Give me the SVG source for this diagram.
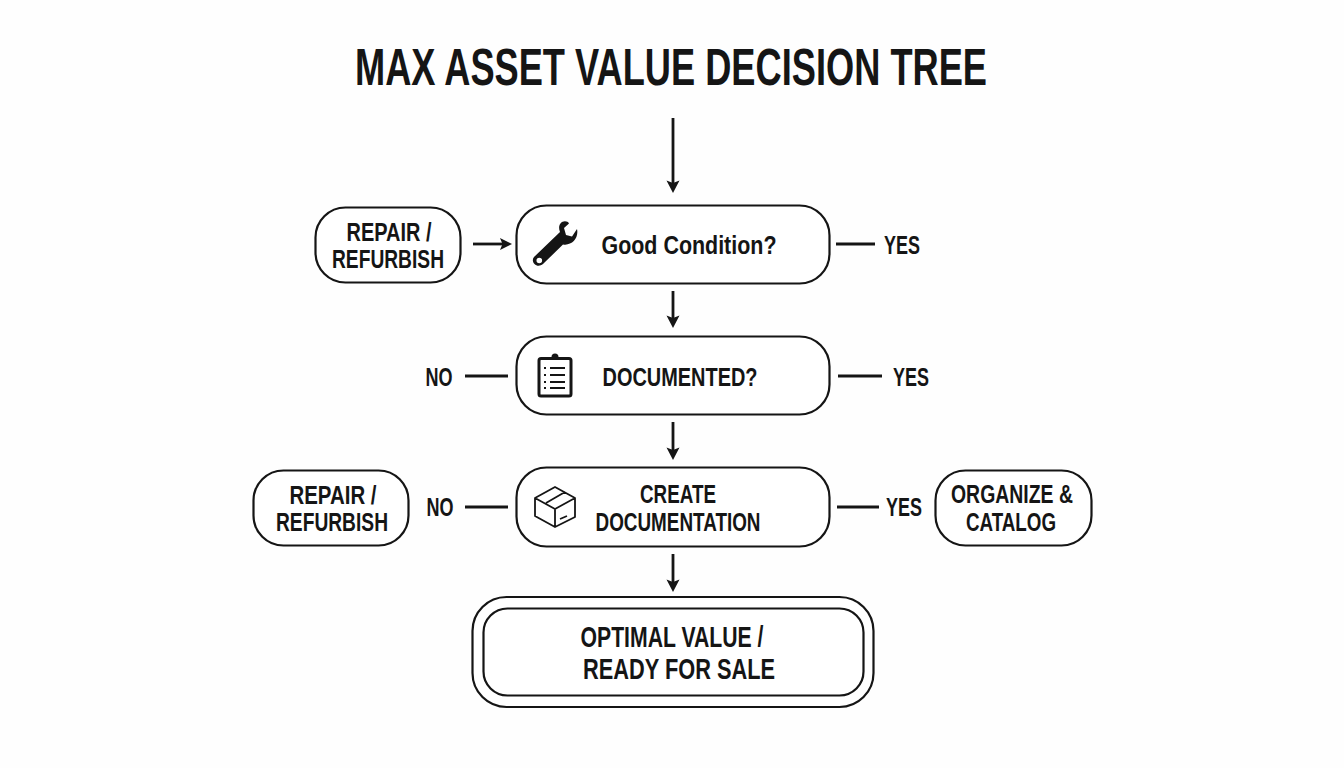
<svg xmlns="http://www.w3.org/2000/svg" width="1344" height="768" viewBox="0 0 1344 768">
<style>
text{font-family:"Liberation Sans",Arial,sans-serif;font-weight:700;fill:#151515;text-anchor:middle}
.n{fill:#fff;stroke:#151515;stroke-width:2.200}
.c{fill:none;stroke:#151515;stroke-width:2.800}
.t{font-size:25.500px}
.i{fill:none;stroke:#151515;stroke-width:2.200;stroke-linejoin:round}
.h{fill:#151515}
</style>
<rect width="1344" height="768" fill="#fefefe"/>
<text id="title" x="671" y="85" font-size="51" textLength="632" lengthAdjust="spacingAndGlyphs">MAX ASSET VALUE DECISION TREE</text>
<g id="connectors">
<path class="c" d="M673 118V184"/><path class="h" d="M673 193L666.500 180.500L673 183L679.500 180.500Z"/>
<path class="c" d="M473 244H504"/><path class="h" d="M512 244L500 238L502.500 244L500 250Z"/>
<path class="c" d="M836 244H875"/>
<path class="c" d="M673 291V320"/><path class="h" d="M673 328L666.500 315.500L673 318L679.500 315.500Z"/>
<path class="c" d="M465 376H508"/>
<path class="c" d="M838 376H882"/>
<path class="c" d="M673 422V452"/><path class="h" d="M673 460L666.500 447.500L673 450L679.500 447.500Z"/>
<path class="c" d="M465 507H508"/>
<path class="c" d="M837 507H879"/>
<path class="c" d="M673 554V584"/><path class="h" d="M673 592L666.500 579.500L673 582L679.500 579.500Z"/>
</g>
<g id="n1"><rect class="n" x="315.500" y="207.500" width="145" height="75" rx="30"/><text class="t" x="389" y="240.500" textLength="85" lengthAdjust="spacingAndGlyphs">REPAIR /</text><text class="t" x="388" y="268" textLength="112" lengthAdjust="spacingAndGlyphs">REFURBISH</text></g>
<g id="n2"><rect class="n" x="516.500" y="205.500" width="313" height="78" rx="30"/>
<path fill="#151515" fill-rule="evenodd" d="M534 257L560 232C557 225 562 219 568 222L569 223.500L564 228L566 235L572 236.500L577 229C579 238 572 246 563 244.500L543 264C537 269 530 262 534 257ZM536.500 260.500a2.800 2.800 0 1 0 5.600 0a2.800 2.800 0 1 0-5.600 0Z"/>
<text class="t" x="689" y="254" textLength="175" lengthAdjust="spacingAndGlyphs">Good Condition?</text></g>
<g id="yes1"><text class="t" x="902" y="254" textLength="36" lengthAdjust="spacingAndGlyphs">YES</text></g>
<g id="n3"><rect class="n" x="516.500" y="336.500" width="313" height="78" rx="30"/>
<rect class="i" style="stroke-width:3" x="539" y="358.500" width="32" height="37.500" rx="2"/><path fill="#151515" d="M547 360V357H551.500A3.500 3.500 0 0 1 558.500 357H563V360Z"/><path class="c" style="stroke-width:1.800" d="M544 368h2M550 368h15M544 375h2M550 375h15M544 382h2M550 382h15M544 388h2M550 388h15"/>
<text class="t" x="680" y="386" textLength="155" lengthAdjust="spacingAndGlyphs">DOCUMENTED?</text></g>
<g id="no1"><text class="t" x="439" y="386" textLength="27" lengthAdjust="spacingAndGlyphs">NO</text></g>
<g id="yes2"><text class="t" x="911" y="386" textLength="36" lengthAdjust="spacingAndGlyphs">YES</text></g>
<g id="n4"><rect class="n" x="516.500" y="467.500" width="313" height="79" rx="30"/>
<path class="i" style="stroke-width:1.800" d="M535 498L555 487L575 498V517L555 527L535 516ZM535 498L555 509L575 498M555 509V527M546 503L565 492M560 519L567 516"/>
<text class="t" x="678" y="502.500" textLength="76" lengthAdjust="spacingAndGlyphs">CREATE</text><text class="t" x="678" y="530.500" textLength="165" lengthAdjust="spacingAndGlyphs">DOCUMENTATION</text></g>
<g id="no2"><text class="t" x="440" y="516" textLength="27" lengthAdjust="spacingAndGlyphs">NO</text></g>
<g id="yes3"><text class="t" x="904" y="516" textLength="36" lengthAdjust="spacingAndGlyphs">YES</text></g>
<g id="n5"><rect class="n" x="253.500" y="470.500" width="155" height="75" rx="30"/><text class="t" x="333" y="503.500" textLength="87" lengthAdjust="spacingAndGlyphs">REPAIR /</text><text class="t" x="332" y="531" textLength="112" lengthAdjust="spacingAndGlyphs">REFURBISH</text></g>
<g id="n6"><rect class="n" x="935.500" y="470.500" width="156" height="75" rx="30"/><text class="t" x="1012" y="503" textLength="122" lengthAdjust="spacingAndGlyphs">ORGANIZE &amp;</text><text class="t" x="1011" y="531" textLength="90" lengthAdjust="spacingAndGlyphs">CATALOG</text></g>
<g id="n7"><rect class="n" x="472.500" y="597" width="401" height="110" rx="34"/><rect class="n" x="483.500" y="608.500" width="380" height="87" rx="24"/><text x="672" y="647" font-size="30" textLength="183" lengthAdjust="spacingAndGlyphs">OPTIMAL VALUE /</text><text x="679" y="679" font-size="30" textLength="192" lengthAdjust="spacingAndGlyphs">READY FOR SALE</text></g>
</svg>
